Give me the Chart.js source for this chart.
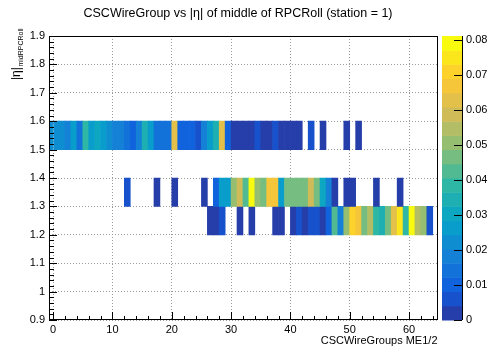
<!DOCTYPE html>
<html>
<head>
<meta charset="utf-8">
<script src="https://cdn.jsdelivr.net/npm/chart.js@4.4.0/dist/chart.umd.min.js"></script>
<style>
html, body { margin: 0; padding: 0; background: #fff; }
canvas { display: block; }
</style>
</head>
<body>
<canvas id="chart" width="490" height="346"></canvas>
<script>
// 数据：CSC wire group 与 RPC roll 中点 |eta| 的二维分布
const binStarts = [-1, 0, 1, 2, 3, 4, 5, 6, 7, 8, 9, 10, 11, 12, 13, 14, 15, 16, 17, 18, 19,
    20, 21, 22, 23, 24, 25, 26, 27, 28, 29, 30, 31, 32, 33, 34, 35, 36, 37, 38, 39,
    40, 41, 42, 43, 44, 45, 46, 47, 48, 49, 50, 51, 52, 53, 54, 55, 56, 57, 58, 59,
    60, 61, 62, 63];

const etaLow = [1.5, 1.3, 1.2];
const etaHigh = [1.6, 1.4, 1.3];

// |eta| 1.5-1.6
const row15 = [0.022, 0.022, 0.022, 0.018, 0.026, 0.014, 0.038, 0.026, 0.030, 0.026, 0.022,
    0.018, 0.018, 0.014, 0.010, 0.018, 0.034, 0.026, 0.014, 0.014, 0.014,
    0.063, 0.010, 0.010, 0.010, 0.006, 0.018, 0.026, 0.034, 0.063, 0.010,
    0.002, 0.002, 0.002, 0.002, 0.006, 0.002, 0.002, 0.006, 0.002, 0.002,
    0.002, 0.002, 0, 0.006, 0, 0.002, 0, 0, 0, 0.002,
    0, 0.002, 0, 0, 0, 0, 0, 0, 0, 0,
    0, 0, 0, 0];
// |eta| 1.3-1.4
const row13 = [0, 0, 0, 0, 0, 0, 0, 0, 0, 0, 0,
    0, 0, 0.006, 0, 0, 0, 0, 0.002, 0, 0,
    0.002, 0, 0, 0, 0, 0.002, 0, 0.010, 0.026, 0.026,
    0.050, 0.059, 0.042, 0.079, 0.050, 0.046, 0.067, 0.067, 0.026, 0.046,
    0.046, 0.046, 0.046, 0.059, 0.046, 0.030, 0.018, 0.002, 0, 0.002,
    0.002, 0, 0, 0, 0.002, 0, 0, 0, 0.002, 0,
    0, 0, 0, 0];
// |eta| 1.2-1.3
const row12 = [0, 0, 0, 0, 0, 0, 0, 0, 0, 0, 0,
    0, 0, 0, 0, 0, 0, 0, 0, 0, 0,
    0, 0, 0, 0, 0, 0, 0.002, 0.002, 0.006, 0,
    0, 0.002, 0, 0.002, 0, 0, 0, 0.002, 0.002, 0,
    0.002, 0.006, 0.002, 0.006, 0.006, 0.002, 0.010, 0.042, 0.018, 0.050,
    0.071, 0.067, 0.046, 0.055, 0.038, 0.034, 0.046, 0.063, 0.075, 0.038,
    0.079, 0.055, 0.050, 0.006];

const rows = [row15, row13, row12];

const xTicks = [0, 10, 20, 30, 40, 50, 60];
const yTicks = [0.9, 1.0, 1.1, 1.2, 1.3, 1.4, 1.5, 1.6, 1.7, 1.8, 1.9];
const yTickLabels = ['0.9', '1', '1.1', '1.2', '1.3', '1.4', '1.5', '1.6', '1.7', '1.8', '1.9'];
const zTicks = [0, 0.01, 0.02, 0.03, 0.04, 0.05, 0.06, 0.07, 0.08];
const zTickLabels = ['0', '0.01', '0.02', '0.03', '0.04', '0.05', '0.06', '0.07', '0.08'];
const zMax = 0.081;
const nLevels = 20;

// ROOT kBird 调色板
const birdStops = [0, 0.125, 0.25, 0.375, 0.5, 0.625, 0.75, 0.875, 1];
const birdR = [0.2082, 0.0592, 0.0780, 0.0232, 0.1802, 0.5301, 0.8186, 0.9956, 0.9764];
const birdG = [0.1664, 0.3599, 0.5041, 0.6419, 0.7178, 0.7492, 0.7328, 0.7862, 0.9832];
const birdB = [0.5293, 0.8684, 0.8385, 0.7914, 0.6425, 0.4662, 0.3499, 0.1968, 0.0539];

const FONT = 'Liberation Sans, Arial, Helvetica, sans-serif';

function birdColour(f) {
    let i = 0;
    while (i < birdStops.length - 2 && f > birdStops[i + 1]) i++;
    const t = (f - birdStops[i]) / (birdStops[i + 1] - birdStops[i]);
    const c = arr => Math.round(255 * (arr[i] + t * (arr[i + 1] - arr[i])));
    return `rgb(${c(birdR)}, ${c(birdG)}, ${c(birdB)})`;
}

function levelColour(level) {
    return birdColour(Math.min(1, (level + 0.99) / nLevels));
}

function valueColour(v) {
    const level = Math.min(nLevels - 1, Math.floor(v / (zMax / nLevels)));
    return levelColour(level);
}

// 每一行一个数据集，每个格子是一个浮动条
const datasets = rows.map((row, r) => {
    const cells = [];
    row.forEach((v, i) => {
        if (v > 0) {
            cells.push({ x: [binStarts[i], binStarts[i] + 1], y: (etaLow[r] + etaHigh[r]) / 2, v: v });
        }
    });
    return {
        label: `${etaLow[r]}-${etaHigh[r]}`,
        data: cells,
        backgroundColor: ctx => valueColour(ctx.raw.v),
        borderWidth: 0,
        grouped: false,
        barPercentage: 1,
        categoryPercentage: 1
    };
});

// 固定坐标轴尺寸，不要额外留白
function fixSize(prop, size) {
    return s => {
        s[prop] = size;
        s.paddingTop = 0;
        s.paddingBottom = 0;
        s.paddingLeft = 0;
        s.paddingRight = 0;
    };
}

// 画框、刻度、色标和坐标轴标题
const rootStylePlugin = {
    id: 'rootStyle',
    afterDraw(chart) {
        const ctx = chart.ctx;
        const area = chart.chartArea;
        const xs = chart.scales.x;
        const ys = chart.scales.y;
        const zs = chart.scales.z;
        ctx.save();

        // 刻度（朝内）
        ctx.strokeStyle = '#000';
        ctx.lineWidth = 1;
        ctx.beginPath();
        for (let v = 0; v <= 64; v += 2) {
            const px = Math.round(xs.getPixelForValue(v)) + 0.5;
            const len = (v % 10 === 0) ? 8 : 4;
            ctx.moveTo(px, area.bottom);
            ctx.lineTo(px, area.bottom - len);
        }
        for (let k = 0; k <= 50; k++) {
            const v = 0.9 + k * 0.02;
            const py = Math.round(ys.getPixelForValue(v)) + 0.5;
            const len = (k % 5 === 0) ? 8 : 5;
            ctx.moveTo(area.left, py);
            ctx.lineTo(area.left + len, py);
        }
        ctx.stroke();

        // 外框
        ctx.strokeRect(Math.round(area.left) + 0.5, Math.round(area.top) + 0.5,
            Math.round(area.right - area.left) - 1, Math.round(area.bottom - area.top) - 1);

        // 色标
        const barLeft = area.right + 4.5;
        const barRight = area.right + 24.5;
        for (let k = 0; k < nLevels; k++) {
            const y0 = zs.getPixelForValue(k * zMax / nLevels);
            const y1 = zs.getPixelForValue((k + 1) * zMax / nLevels);
            ctx.fillStyle = levelColour(k);
            ctx.fillRect(barLeft, y1, barRight - barLeft, y0 - y1 + 0.5);
        }
        ctx.beginPath();
        zTicks.forEach(v => {
            const py = Math.round(zs.getPixelForValue(v)) + 0.5;
            ctx.moveTo(barRight, py);
            ctx.lineTo(barRight - 8, py);
        });
        ctx.moveTo(Math.round(barRight) + 0.5, area.top);
        ctx.lineTo(Math.round(barRight) + 0.5, area.bottom);
        ctx.stroke();

        // 标题
        ctx.fillStyle = '#000';
        ctx.textAlign = 'center';
        ctx.textBaseline = 'middle';
        ctx.font = `12.5px ${FONT}`;
        ctx.fillText('CSCWireGroup vs |\u03b7| of middle of RPCRoll (station = 1)', 238, 14);

        // x 轴标题
        ctx.textAlign = 'right';
        ctx.font = `11px ${FONT}`;
        ctx.fillText('CSCWireGroups ME1/2', area.right, 341);

        // y 轴标题（带下标）
        ctx.translate(20, 80);
        ctx.rotate(-Math.PI / 2);
        ctx.textAlign = 'left';
        ctx.textBaseline = 'alphabetic';
        ctx.font = `12px ${FONT}`;
        const mainText = '|\u03b7|';
        ctx.fillText(mainText, 0, 0);
        const w = ctx.measureText(mainText).width;
        ctx.font = `7px ${FONT}`;
        ctx.fillText('midRPCRoll', w + 0.5, 3);
        ctx.restore();
    }
};

const gridStyle = {
    color: '#9a9a9a',
    lineWidth: 1,
    drawTicks: false,
    offset: false
};

new Chart(document.getElementById('chart').getContext('2d'), {
    type: 'bar',
    data: { datasets: datasets },
    options: {
        indexAxis: 'y',
        responsive: false,
        animation: false,
        devicePixelRatio: 1,
        layout: { padding: { top: 36, left: 0, right: 0, bottom: 0 } },
        plugins: {
            legend: { display: false },
            title: { display: false },
            tooltip: { enabled: false }
        },
        scales: {
            x: {
                type: 'linear',
                position: 'bottom',
                min: -0.7,
                max: 64.8,
                offset: false,
                z: 1,
                afterBuildTicks: s => { s.ticks = xTicks.map(v => ({ value: v })); },
                afterFit: fixSize('height', 26),
                grid: gridStyle,
                border: { display: false, dash: [1, 2] },
                ticks: {
                    color: '#000',
                    padding: 3,
                    maxRotation: 0,
                    font: { family: FONT, size: 11 },
                    callback: v => String(v)
                }
            },
            y: {
                type: 'linear',
                position: 'left',
                min: 0.9,
                max: 1.9,
                offset: false,
                z: 1,
                afterBuildTicks: s => { s.ticks = yTicks.map(v => ({ value: v })); },
                afterFit: fixSize('width', 49),
                grid: gridStyle,
                border: { display: false, dash: [1, 2] },
                ticks: {
                    color: '#000',
                    padding: 4,
                    font: { family: FONT, size: 11 },
                    callback: (v, i) => yTickLabels[i]
                }
            },
            z: {
                type: 'linear',
                position: 'right',
                min: 0,
                max: zMax,
                offset: false,
                afterBuildTicks: s => { s.ticks = zTicks.map(v => ({ value: v })); },
                afterFit: fixSize('width', 52.5),
                grid: { display: false, drawTicks: false, offset: false },
                border: { display: false },
                ticks: {
                    color: '#000',
                    padding: 28.5,
                    font: { family: FONT, size: 11 },
                    callback: (v, i) => zTickLabels[i]
                }
            }
        }
    },
    plugins: [rootStylePlugin]
});
</script>
</body>
</html>
